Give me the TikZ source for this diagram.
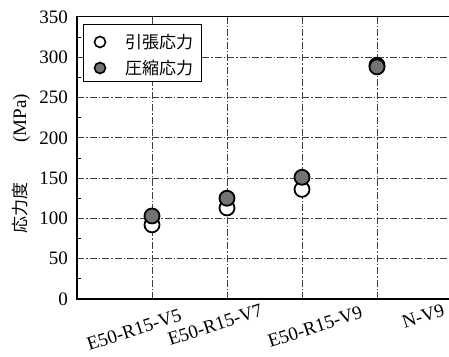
\documentclass[tikz,border=0pt]{standalone}
\usepackage{fontspec}
\setmainfont{Liberation Serif}
\newfontfamily\jafont{Noto Sans CJK JP}
\begin{document}
\begin{tikzpicture}[x=1pt,y=1pt,
    gridline/.style={black!75, line width=0.7pt, dash pattern=on 7pt off 2pt on 1.5pt off 2pt},
    tens/.style={circle, draw=black, line width=1.8pt, fill=white, minimum size=15pt, inner sep=0pt},
    comp/.style={circle, draw=black, line width=1.8pt, fill=black!55, minimum size=15pt, inner sep=0pt},
    ticklab/.style={font=\fontsize{19}{19}\selectfont, inner sep=0pt},
    catlab/.style={font=\fontsize{19}{19}\selectfont, rotate=18, anchor=north east, inner sep=0pt}]
  \useasboundingbox (0,0) rectangle (449,356);
  \begin{scope}[x=75pt, y=0.806pt, shift={(77pt,57pt)}]
    % grid
    \foreach \v in {50,100,...,300}
      \draw[gridline] (0,\v) -- (4.96,\v);
    \foreach \c in {1,2,3,4}
      \draw[gridline] (\c,0) -- (\c,350);
    % minor ticks
    \foreach \v in {25,75,...,325}
      \draw[line width=0.8pt] (0,\v) -- ++(4pt,0);
    % frame
    \draw[line width=1.2pt] (4.96,350) -- (0,350) -- (0,0) -- (4.96,0);
    \foreach \v in {0,50,...,350}
      \node[ticklab, anchor=east] (y\v) at ([xshift=-9pt]0,\v) {\v};
    % data
    \node[tens] (t5) at (1,92) {};
    \node[comp] (c5) at (1,103) {};
    \node[tens] (t7) at (2,113) {};
    \node[comp] (c7) at (2,125) {};
    \node[tens] (t9) at (3,136) {};
    \node[comp] (c9) at (3,151) {};
    \node[tens] (tn) at (4,290) {};
    \node[comp] (cn) at (4,288) {};
  \end{scope}
  % categories
  \node[catlab] (l5) at (179,48) {E50-R15-V5};
  \node[catlab] (l7) at (260,53) {E50-R15-V7};
  \node[catlab] (l9) at (360,51) {E50-R15-V9};
  \node[catlab] (ln) at (442,53) {N-V9};
  % axis title
  \node[rotate=90, font=\fontsize{19}{19}\selectfont] (ytitle) at (21,192)
    {{\jafont\fontsize{17}{17}\selectfont 応力度}\hspace{40pt}(MPa)};
  % legend
  \draw[line width=1pt, fill=white] (83,274) rectangle (201,331);
  \node[tens, minimum size=11pt, line width=1.6pt] (lt) at (100,314) {};
  \node[comp, minimum size=11pt, line width=1.6pt] (lc) at (100,288) {};
  \node[anchor=west, inner sep=0pt, font=\jafont\fontsize{17}{17}\selectfont] (ltx) at (125,314) {引張応力};
  \node[anchor=west, inner sep=0pt, font=\jafont\fontsize{17}{17}\selectfont] (lcx) at (125,288) {圧縮応力};
\end{tikzpicture}
\end{document}
